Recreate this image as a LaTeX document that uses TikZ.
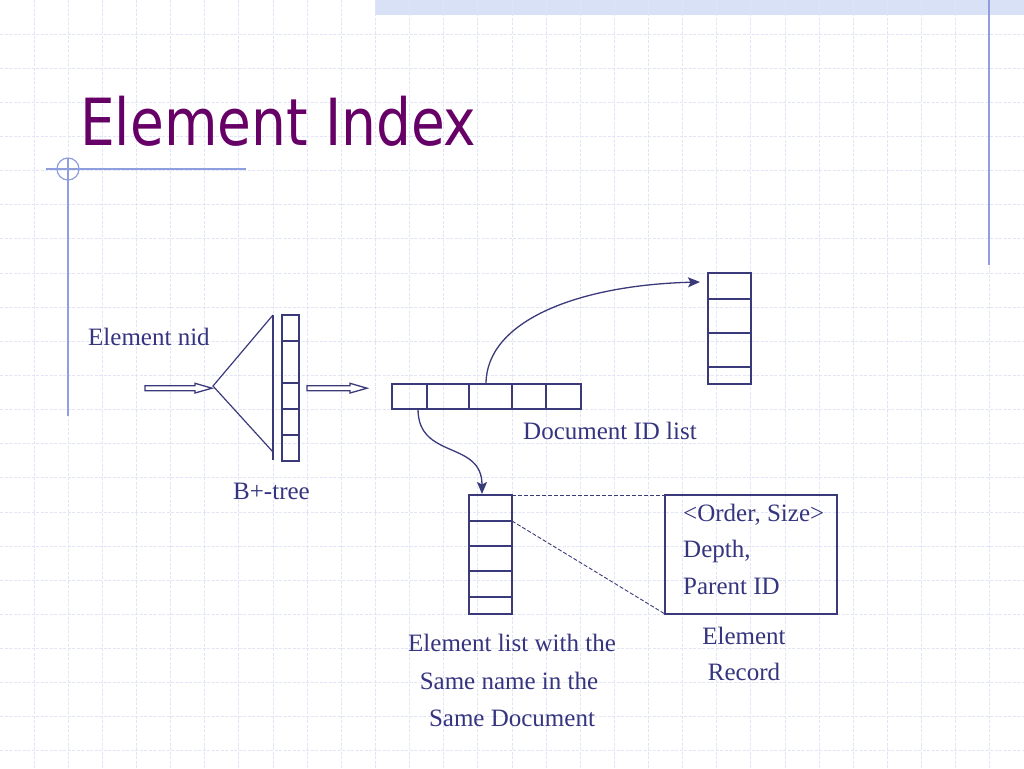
\documentclass[tikz,border=0pt]{standalone}
\usepackage{fontspec}
\usepackage{graphicx}
\setmainfont{Liberation Serif}
\newfontfamily\titlefont{DejaVu Sans Condensed}
\usetikzlibrary{arrows.meta}
\definecolor{ink}{HTML}{3A3A7A}
\definecolor{txt}{HTML}{35357F}
\definecolor{gridc}{HTML}{E2E5F5}
\definecolor{deco}{HTML}{8E9EDE}
\definecolor{band}{HTML}{D9E1F7}
\definecolor{titlec}{HTML}{660066}
\tikzset{
  gridline/.style={draw=gridc, line width=1pt, dash pattern=on 3pt off 1.5pt},
  decoline/.style={draw=deco, line width=1.2pt},
  cellbox/.style={draw=ink, line width=1.3pt, rectangle, inner sep=0pt, outer sep=0pt, anchor=north west},
  divider/.style={draw=ink, line width=1.2pt},
  conn/.style={draw=ink, line width=1.3pt, -{Stealth[length=12pt,width=10pt,inset=2.5pt]}},
  hollow/.style={draw=ink, line width=1.3pt, fill=white, line join=miter},
  guide/.style={draw=ink, line width=0.9pt, dash pattern=on 4pt off 2pt},
  lbl/.style={text=txt, font=\fontsize{25}{25}\selectfont, inner sep=0pt, anchor=base west},
  clbl/.style={text=txt, font=\fontsize{25}{25}\selectfont, inner sep=0pt, anchor=base}
}
\begin{document}
\begin{tikzpicture}[x=1pt,y=-1pt]
\useasboundingbox (0,0) rectangle (1024,768);
\fill[white] (0,0) rectangle (1024,768);
\fill[band] (375,0) rectangle (1024,15);
\foreach \i in {1,...,29} \draw[gridline] (\i*34.133,0) -- (\i*34.133,768);
\foreach \j in {1,...,22} \draw[gridline] (0,\j*34.133) -- (1024,\j*34.133);
% decoration
\draw[decoline] (989,0) -- (989,265);
\draw[decoline] (46,169) -- (246,169);
\draw[decoline] (68,158) -- (68,416);
\draw[decoline] (68,169) circle[radius=11];
% title
\node[anchor=base west, text=titlec, inner sep=0pt, font=\titlefont\fontsize{65}{65}\selectfont] (title) at (80,145) {\scalebox{0.94}[1]{Element Index}};
% B+-tree
\draw[hollow] (145,385.7) -- (195,385.7) -- (195,383.3) -- (212,388.2) -- (195,393) -- (195,390.7) -- (145,390.7) -- cycle;
\draw[divider] (273,315) -- (213,386) -- (273,452);
\draw[divider] (273,315) -- (273,460);
\node[cellbox, minimum width=17pt, minimum height=146pt] (bt) at (282,315) {};
\foreach \y in {341,383,409,435} \draw[divider] (282,\y) -- (299,\y);
\draw[hollow] (307,385.7) -- (350,385.7) -- (350,383.3) -- (367,388.2) -- (350,393) -- (350,390.7) -- (307,390.7) -- cycle;
% document ID list
\node[cellbox, minimum width=189pt, minimum height=25pt] (doc) at (392,384) {};
\foreach \x in {427,469,512,546} \draw[divider] (\x,384) -- (\x,409);
% top column
\node[cellbox, minimum width=43pt, minimum height=111pt] (tc) at (708,273) {};
\foreach \y in {299,333,367} \draw[divider] (708,\y) -- (751,\y);
% element list
\node[cellbox, minimum width=43pt, minimum height=119pt] (el) at (469,495) {};
\foreach \y in {521,546,571,597} \draw[divider] (469,\y) -- (512,\y);
% record box
\node[cellbox, minimum width=172pt, minimum height=119pt] (rec) at (665,495) {};
% connectors
\coordinate (s1) at (486,384);
\coordinate (t1) at (700,282);
\draw[conn] (s1) .. controls (486,320) and (580,285) .. (t1);
\coordinate (s2) at (418,409);
\coordinate (t2) at (482,494);
\draw[conn] (s2) .. controls (418,460) and (482,440) .. (t2);
\coordinate (e2) at (512,521);
\draw[guide] (el.north east) -- (rec.north west);
\draw[guide] (e2) -- (rec.south west);
% labels
\node[lbl] (nid) at (88,345) {Element nid};
\node[lbl] (btl) at (233,499) {B+-tree};
\node[lbl] (docl) at (523,439) {Document ID list};
\node[lbl] (r1) at (683,521) {<Order, Size>};
\node[lbl] (r2) at (683,557.5) {Depth,};
\node[lbl] (r3) at (683,594) {Parent ID};
\node[clbl] (el1) at (512,651.5) {Element list with the};
\node[clbl] (el2) at (509,689) {Same name in the};
\node[clbl] (el3) at (512,726) {Same Document};
\node[clbl] (rl1) at (744,644) {Element};
\node[clbl] (rl2) at (744,680) {Record};
\end{tikzpicture}
\end{document}
